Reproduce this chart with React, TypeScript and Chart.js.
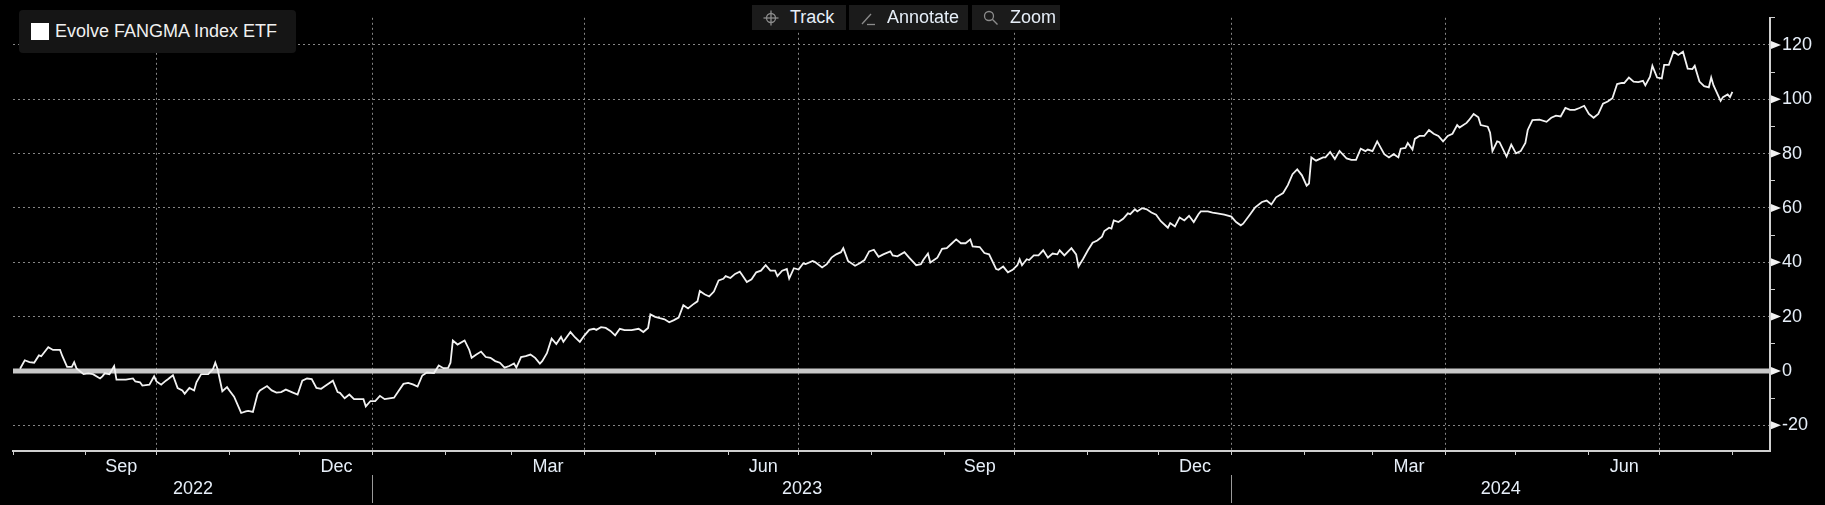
import { useEffect, useRef } from "react";
import { Chart, registerables } from "chart.js";

Chart.register(...registerables);

const FONT = "'Liberation Sans', Arial, sans-serif";
const TEXT = "#e6eef8";

// x = days counted from 1 Aug 2022 (left edge of the axis)
const days = [
    3, 5, 7, 9, 11, 12, 15, 17, 20, 21,
    23, 25, 26, 27, 30, 32, 34, 37, 38, 39,
    41, 43, 44, 48, 51, 52, 54, 55, 58, 60,
    61, 63, 65, 66, 68, 70, 72, 73, 75, 77,
    78, 80, 83, 85, 86, 87, 89, 91, 92, 94,
    97, 99, 100, 102, 104, 105, 108, 110, 112, 114,
    116, 119, 121, 123, 125, 127, 129, 131, 133, 136,
    138, 139, 141, 143, 145, 149, 150, 152, 154, 156,
    158, 160, 162, 164, 166, 168, 170, 172, 174, 176,
    179, 181, 183, 185, 186, 187, 189, 192, 194, 195,
    197, 199, 201, 203, 205, 207, 209, 211, 213, 214,
    216, 218, 220, 222, 224, 225, 227, 229, 231, 233,
    234, 235, 237, 239, 241, 243, 245, 247, 248, 250,
    252, 254, 256, 258, 260, 263, 266, 268, 270, 271,
    273, 275, 277, 279, 281, 283, 285, 287, 289, 291,
    292, 294, 296, 298, 300, 302, 303, 305, 307, 309,
    310, 312, 314, 316, 318, 320, 322, 324, 325, 327,
    329, 330, 332, 334, 336, 337, 340, 341, 344, 346,
    348, 350, 352, 353, 355, 358, 360, 362, 364, 366,
    368, 370, 373, 374, 376, 379, 381, 384, 386, 387,
    389, 390, 393, 395, 397, 399, 401, 403, 405, 407,
    408, 411, 413, 415, 418, 419, 421, 423, 425, 427,
    428, 429, 431, 432, 434, 436, 438, 440, 442, 444,
    445, 447, 450, 452, 453, 455, 457, 459, 461, 463,
    464, 466, 467, 468, 470, 472, 474, 475, 477, 478,
    480, 482, 484, 486, 488, 491, 492, 494, 496, 498,
    500, 502, 504, 505, 508, 510, 512, 515, 518, 520,
    522, 523, 526, 528, 531, 533, 535, 537, 540, 542,
    544, 546, 548, 550, 551, 552, 554, 557, 558, 560,
    562, 564, 567, 569, 571, 573, 575, 576, 578, 580,
    583, 585, 587, 589, 590, 592, 593, 595, 596, 598,
    600, 602, 604, 606, 608, 610, 612, 614, 615, 618,
    619, 621, 623, 624, 627, 628, 629, 631, 632, 635,
    637, 639, 641, 643, 644, 646, 649, 652, 654, 656,
    658, 660, 662, 664, 666, 668, 670, 672, 674, 676,
    678, 680, 682, 684, 685, 687, 689, 691, 693, 694,
    696, 697, 699, 701, 702, 704, 706, 708, 710, 712,
    714, 715, 717, 719, 721, 722, 723, 726, 727, 729,
    730, 731,
];

// cumulative return, %
const fangmaReturn = [
    0.8, 3.9, 3.2, 3.0, 5.7, 5.4, 8.7, 7.7, 7.7, 5.4,
    1.5, 1.5, 3.2, 0.9, -1.2, -0.9, -1.2, -2.8, -2.0, -0.9,
    -1.2, 1.8, -3.2, -3.2, -2.8, -3.9, -4.2, -5.4, -5.1, -2.0,
    -3.9, -5.1, -3.6, -3.0, -1.6, -6.3, -7.2, -8.4, -6.3, -7.2,
    -4.2, -1.2, -1.2, 0.6, 3.0, 0.6, -7.5, -6.0, -7.2, -9.5,
    -15.5, -14.9, -14.7, -15.1, -8.4, -7.2, -5.6, -7.2, -8.0, -7.8,
    -6.9, -8.0, -8.7, -3.6, -2.8, -3.0, -6.3, -6.6, -5.4, -3.6,
    -7.8, -8.1, -10.1, -8.7, -10.4, -10.4, -13.1, -11.1, -11.1, -9.2,
    -10.4, -10.1, -9.9, -7.3, -4.8, -4.4, -5.0, -5.8, -1.7, -0.6,
    -0.8, 2.0, 1.0, 1.1, 3.0, 11.2, 9.7, 11.2, 7.7, 4.8,
    6.0, 7.1, 5.1, 4.8, 3.6, 3.0, 1.2, 1.8, 2.7, 1.2,
    5.1, 5.4, 6.0, 4.8, 2.7, 3.6, 6.5, 11.9, 9.9, 12.5,
    10.7, 11.9, 14.3, 12.3, 10.7, 13.1, 15.1, 15.5, 15.1, 16.1,
    15.8, 14.7, 13.1, 15.5, 15.0, 15.0, 15.5, 14.3, 15.8, 20.8,
    19.9, 19.4, 19.0, 17.9, 18.7, 19.6, 24.2, 23.0, 24.4, 25.6,
    29.4, 28.2, 27.4, 29.2, 33.3, 33.9, 34.9, 34.2, 35.7, 36.5,
    35.3, 32.7, 33.7, 36.3, 36.9, 38.9, 36.9, 36.9, 34.9, 36.9,
    37.5, 34.0, 37.8, 37.3, 39.6, 39.3, 40.5, 40.1, 38.1, 39.3,
    41.7, 42.9, 43.7, 45.2, 40.5, 38.7, 39.6, 40.8, 44.0, 44.6,
    42.0, 42.9, 44.0, 42.5, 42.2, 43.7, 41.7, 38.9, 39.3, 40.8,
    43.2, 39.9, 41.7, 44.9, 45.2, 46.8, 48.4, 47.0, 47.0, 48.4,
    45.8, 45.6, 43.4, 42.9, 37.5, 37.2, 38.4, 36.3, 37.2, 38.9,
    41.1, 38.9, 41.1, 40.8, 42.5, 42.5, 44.4, 41.7, 43.2, 42.9,
    44.4, 42.5, 45.2, 42.9, 38.4, 41.3, 44.4, 47.2, 48.0, 49.4,
    51.5, 52.7, 52.4, 55.4, 54.8, 56.0, 58.0, 57.7, 59.5, 58.7,
    59.9, 59.5, 58.3, 57.5, 55.1, 52.7, 54.4, 53.2, 56.5, 55.4,
    57.1, 54.8, 57.7, 58.7, 58.7, 58.3, 58.0, 57.5, 56.8, 54.8,
    53.6, 54.2, 57.7, 60.1, 62.2, 62.7, 61.3, 63.9, 65.5, 68.4,
    72.4, 74.2, 72.0, 68.2, 69.0, 78.6, 77.4, 78.6, 78.6, 80.6,
    78.0, 81.0, 78.2, 77.7, 77.7, 81.8, 80.9, 81.5, 80.9, 84.5,
    79.8, 78.6, 79.8, 78.6, 81.8, 82.1, 83.9, 81.5, 85.4, 86.5,
    86.5, 88.7, 87.3, 86.5, 84.5, 86.5, 87.3, 90.5, 89.6, 91.3,
    92.3, 94.6, 93.4, 90.5, 89.9, 87.7, 80.9, 84.5, 84.2, 78.9,
    83.3, 80.1, 80.9, 83.9, 88.7, 92.3, 92.5, 91.7, 93.2, 94.0,
    93.7, 96.8, 96.1, 96.1, 96.8, 97.6, 94.6, 93.2, 94.6, 98.4,
    99.2, 100.4, 105.6, 106.0, 106.0, 108.0, 106.5, 106.3, 106.8, 105.1,
    108.3, 112.3, 108.0, 107.7, 112.7, 112.7, 117.5, 116.3, 117.5, 111.3,
    111.1, 112.3, 106.5, 104.8, 104.4, 108.0, 105.1, 99.4, 100.8, 101.8,
    100.8, 102.7,
];

const xMaxDay = 747;
const labelMonths = ["2022-09", "2022-12", "2023-03", "2023-06", "2023-09", "2023-12", "2024-03", "2024-06"];
const monthLabels = ["Sep", "Dec", "Mar", "Jun", "Sep", "Dec", "Mar", "Jun"];
const yearLabels = ["2022", "2023", "2024"];
const yMajorTicks = [-20, 0, 20, 40, 60, 80, 100, 120];
const yMinorTicks = [-10, 10, 30, 50, 70, 90, 110, 130];

const DAY = 86400000;
const origin = Date.UTC(2022, 7, 1);
const dayOf = (y: number, m: number) => (Date.UTC(y, m, 1) - origin) / DAY;

// month boundaries for tick marks, quarter starts for grid lines
const monthStarts: number[] = [];
const quarterStarts = new Set<number>();
for (let i = 0; i < 30; i++) {
    const d = dayOf(2022, 7 + i);
    if (d > xMaxDay) break;
    monthStarts.push(d);
    if ((7 + i) % 3 === 0) quarterStarts.add(d);
}

const monthMids = labelMonths.map((s) => {
    const [y, m] = s.split("-").map(Number);
    return (dayOf(y, m - 1) + dayOf(y, m)) / 2;
});

const yearBreaks = [dayOf(2023, 0), dayOf(2024, 0)];
const yearCenters = [
    yearBreaks[0] / 2,
    (yearBreaks[0] + yearBreaks[1]) / 2,
    (yearBreaks[1] + xMaxDay) / 2,
];
const yearTicks = [...yearCenters, ...yearBreaks].sort((a, b) => a - b);

const GRID = "#858585";
const AXIS = "#cfcfcf";
const NONE = "rgba(0,0,0,0)";

const yFlags = {
    id: "yFlags",
    afterDraw(chart: any) {
        const { ctx } = chart;
        const y = chart.scales.y;
        ctx.save();
        ctx.fillStyle = "#f2f2f2";
        yMajorTicks.forEach((v) => {
            const py = y.getPixelForValue(v);
            ctx.beginPath();
            ctx.moveTo(y.left + 1, py - 4);
            ctx.lineTo(y.left + 1, py + 4);
            ctx.lineTo(y.left + 11, py);
            ctx.closePath();
            ctx.fill();
        });
        ctx.restore();
    },
};

const iconStroke = { stroke: "#8c8c8c", strokeWidth: 1.3, fill: "none" };

function ToolButton({ left, width, label, icon }: { left: number; width: number; label: string; icon: any }) {
    return (
        <div style={{
            position: "absolute", left, top: 5, width, height: 25, background: "#1b1b1b",
            display: "flex", alignItems: "center", color: TEXT, fontSize: 18, fontFamily: FONT,
        }}>
            <div style={{ width: 38, display: "flex", justifyContent: "center" }}>{icon}</div>
            <span>{label}</span>
        </div>
    );
}

export default function App() {
    const canvasRef = useRef<HTMLCanvasElement | null>(null);

    useEffect(() => {
        if (!canvasRef.current) return;
        Chart.defaults.font.family = FONT;

        const chart = new Chart(canvasRef.current, {
            type: "line",
            data: {
                datasets: [
                    {
                        label: "Evolve FANGMA Index ETF",
                        data: days.map((d, i) => ({ x: d, y: fangmaReturn[i] })),
                        borderColor: "#f2f2f2",
                        borderWidth: 1.8,
                        pointRadius: 0,
                        tension: 0,
                        order: 0,
                    },
                    {
                        label: "zero",
                        data: [{ x: 0, y: 0 }, { x: xMaxDay, y: 0 }],
                        borderColor: "#c8c8c8",
                        borderWidth: 5,
                        pointRadius: 0,
                        order: 1,
                    },
                ],
            },
            options: {
                responsive: false,
                animation: false,
                layout: { padding: { left: 13, top: 4, right: 0, bottom: 0 } },
                plugins: { legend: { display: false }, tooltip: { enabled: false } },
                scales: {
                    x: {
                        type: "linear",
                        position: "bottom",
                        min: 0,
                        max: xMaxDay,
                        afterBuildTicks: (s: any) => { s.ticks = monthStarts.map((value) => ({ value })); },
                        afterFit: (s: any) => { s.height = 4; },
                        ticks: { display: false },
                        grid: {
                            color: (c: any) => (quarterStarts.has(c.tick?.value) ? GRID : NONE),
                            tickColor: AXIS,
                            tickLength: 4,
                            lineWidth: 1,
                        },
                        border: { color: AXIS, width: 2, dash: [2, 3] },
                    },
                    xMonths: {
                        type: "linear",
                        position: "bottom",
                        min: 0,
                        max: xMaxDay,
                        afterBuildTicks: (s: any) => { s.ticks = monthMids.map((value) => ({ value })); },
                        afterFit: (s: any) => { s.height = 20; },
                        ticks: {
                            autoSkip: false,
                            maxRotation: 0,
                            padding: 1,
                            color: TEXT,
                            font: { size: 18 },
                            callback: (_v: any, i: number) => monthLabels[i],
                        },
                        grid: { display: false, drawTicks: false },
                        border: { display: false },
                    },
                    xYears: {
                        type: "linear",
                        position: "bottom",
                        min: 0,
                        max: xMaxDay,
                        afterBuildTicks: (s: any) => { s.ticks = yearTicks.map((value) => ({ value })); },
                        afterFit: (s: any) => { s.height = 30; },
                        ticks: {
                            autoSkip: false,
                            maxRotation: 0,
                            padding: -25,
                            color: TEXT,
                            font: { size: 18 },
                            callback: (v: any) => {
                                const k = yearCenters.indexOf(v);
                                return k >= 0 ? yearLabels[k] : "";
                            },
                        },
                        grid: {
                            drawOnChartArea: false,
                            tickLength: 28,
                            tickColor: (c: any) => (yearBreaks.includes(c.tick?.value) ? "#9a9a9a" : NONE),
                        },
                        border: { display: false },
                    },
                    y: {
                        type: "linear",
                        position: "right",
                        min: -29.5,
                        max: 130,
                        afterBuildTicks: (s: any) => {
                            s.ticks = [...yMajorTicks, ...yMinorTicks].sort((a, b) => a - b).map((value) => ({ value }));
                        },
                        afterFit: (s: any) => { s.width = 55; },
                        ticks: {
                            padding: 7,
                            color: TEXT,
                            font: { size: 18 },
                            callback: (v: any) => (yMajorTicks.includes(v) ? String(v) : ""),
                        },
                        grid: {
                            color: (c: any) => {
                                const v = c.tick?.value;
                                return yMajorTicks.includes(v) && v !== 0 ? GRID : NONE;
                            },
                            tickColor: (c: any) => (yMinorTicks.includes(c.tick?.value) ? AXIS : NONE),
                            tickLength: 5,
                        },
                        border: { color: AXIS, width: 2, dash: [2, 3] },
                    },
                },
            },
            plugins: [yFlags],
        } as any);

        return () => chart.destroy();
    }, []);

    return (
        <div style={{ position: "absolute", left: 0, top: 0, width: 1825, height: 505, background: "#000", overflow: "hidden" }}>
            <canvas ref={canvasRef} width={1825} height={505} style={{ display: "block" }} />

            <div style={{
                position: "absolute", left: 19, top: 10, width: 277, height: 43, background: "#151515",
                borderRadius: 4, display: "flex", alignItems: "center", fontFamily: FONT, fontSize: 18, color: "#f0f0f0",
            }}>
                <div style={{ width: 18, height: 17, background: "#ffffff", marginLeft: 12, marginRight: 6 }} />
                <span>Evolve FANGMA Index ETF</span>
            </div>

            <ToolButton left={752} width={94} label="Track" icon={
                <svg width="18" height="18" viewBox="0 0 18 18" {...iconStroke}>
                    <circle cx="9" cy="9" r="4.5" />
                    <line x1="9" y1="1.5" x2="9" y2="16.5" />
                    <line x1="1.5" y1="9" x2="16.5" y2="9" />
                </svg>
            } />
            <ToolButton left={849} width={119} label="Annotate" icon={
                <svg width="18" height="18" viewBox="0 0 18 18" {...iconStroke}>
                    <line x1="3" y1="15" x2="12" y2="5" />
                    <line x1="8" y1="15.5" x2="16" y2="15.5" />
                </svg>
            } />
            <ToolButton left={972} width={88} label="Zoom" icon={
                <svg width="18" height="18" viewBox="0 0 18 18" {...iconStroke}>
                    <circle cx="7" cy="7" r="4.5" />
                    <line x1="10.3" y1="10.3" x2="15.5" y2="15.5" />
                </svg>
            } />
        </div>
    );
}
